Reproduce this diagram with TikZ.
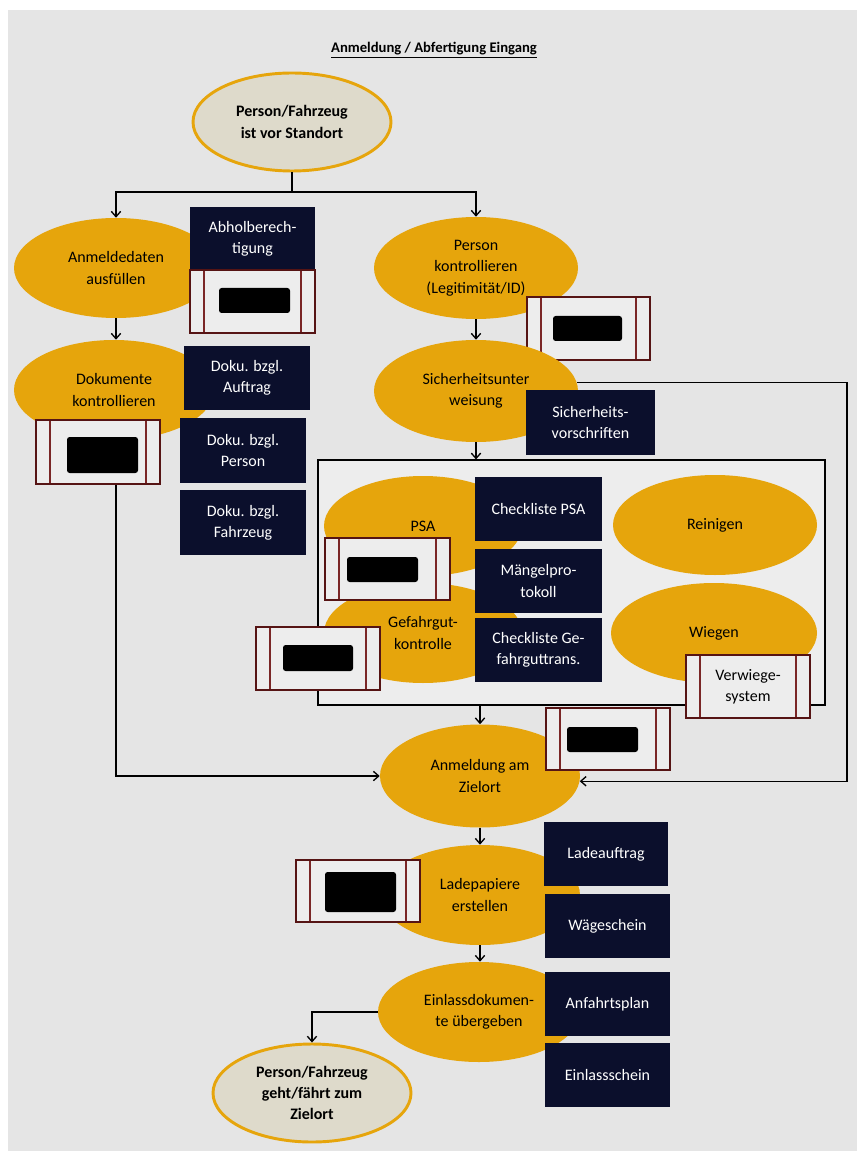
\documentclass[tikz,border=0pt]{standalone}
\usepackage{fontspec}
\setmainfont{Carlito}
\usetikzlibrary{shapes.geometric,arrows.meta,calc}

\definecolor{pagebg}{HTML}{E5E5E5}
\definecolor{framebg}{HTML}{EDEDED}
\definecolor{gold}{HTML}{E6A50C}
\definecolor{navy}{HTML}{0B0F2C}
\definecolor{maroonC}{HTML}{561414}
\definecolor{maroonL}{HTML}{7A2626}
\definecolor{beige}{HTML}{DEDACB}

\tikzset{
  txt/.style={font=\fontsize{12}{16}\selectfont, align=center, inner sep=0pt},
  ell/.style={txt, ellipse, fill=gold, text=black},
  terminal/.style={txt, ellipse, fill=beige, draw=gold, line width=2.2pt, font=\fontsize{12}{16}\selectfont\bfseries},
  docbox/.style={txt, rectangle, fill=navy, text=white},
  sysbox/.style={txt, rectangle, fill=framebg, draw=maroonC, line width=1.6pt, text=black,
    path picture={
      \draw[maroonL, line width=1.3pt]
        ([xshift=10.5pt]path picture bounding box.south west) --
        ([xshift=10.5pt]path picture bounding box.north west);
      \draw[maroonL, line width=1.3pt]
        ([xshift=-10.5pt]path picture bounding box.south east) --
        ([xshift=-10.5pt]path picture bounding box.north east);
    }},
  hidden/.style={rectangle, fill=black, rounded corners=2pt, inner sep=0pt},
  flow/.style={line width=1pt, draw=black},
  arr/.style={flow, -{Straight Barb[length=4pt,width=7pt,line width=1pt]}},
}

% sizes are given in pixels of a 857 x 1151 sheet: 1px = 0.75pt
\newcommand{\px}[1]{\fpeval{#1*0.75}pt}

\begin{document}
\begin{tikzpicture}[x=0.75pt,y=-0.75pt]
\useasboundingbox (0,0) rectangle (857,1151);
\fill[white] (0,0) rectangle (857,1151);
\fill[pagebg] (8,10) rectangle (857,1151);

% title
\node[txt, font=\fontsize{11}{14}\selectfont\bfseries] (title) at (434,50)
  {\underline{Anmeldung / Abfertigung Eingang}};

% start
\node[terminal, minimum width=\px{198}, minimum height=\px{98}] (start) at (292,122)
  {Person/Fahrzeug\\ist vor Standort};

% left column
\node[ell, minimum width=\px{204}, minimum height=\px{100}] (anm) at (116,268) {Anmeldedaten\\ausfüllen};
\node[ell, minimum width=\px{200}, minimum height=\px{100}] (dok) at (114,390) {Dokumente\\kontrollieren};
\node[docbox, minimum width=\px{125}, minimum height=\px{63}] (abh) at (252.5,238.5) {Abholberech-\\tigung};
\node[sysbox, minimum width=\px{125}, minimum height=\px{63}] (abhR) at (252.5,301.5) {};
\node[hidden, minimum width=\px{71}, minimum height=\px{25}] (abhB) at (254.5,300.5) {};
\node[sysbox, minimum width=\px{124}, minimum height=\px{64}] (dokR) at (98,452) {};
\node[hidden, minimum width=\px{71}, minimum height=\px{36}] (dokB) at (102.5,455) {};
\node[docbox, minimum width=\px{126}, minimum height=\px{64}] (d1) at (247,378) {Doku. bzgl.\\Auftrag};
\node[docbox, minimum width=\px{126}, minimum height=\px{65}] (d2) at (243,450.5) {Doku. bzgl.\\Person};
\node[docbox, minimum width=\px{126}, minimum height=\px{65}] (d3) at (243,522.5) {Doku. bzgl.\\Fahrzeug};

% right column
\node[ell, minimum width=\px{204}, minimum height=\px{102}] (per) at (476,268) {Person\\kontrollieren\\(Legitimität/ID)};
\node[sysbox, minimum width=\px{123}, minimum height=\px{63}] (perR) at (588.5,328.5) {};
\node[hidden, minimum width=\px{69}, minimum height=\px{25}] (perB) at (587.5,328.5) {};
\node[ell, minimum width=\px{204}, minimum height=\px{102}] (sic) at (476,391) {Sicherheitsunter\\weisung};
\node[docbox, minimum width=\px{129}, minimum height=\px{65}] (sicN) at (590.5,422.5) {Sicherheits-\\vorschriften};

% checks frame
\node[rectangle, fill=framebg, draw=black, line width=0.8pt, minimum width=\px{507}, minimum height=\px{245}, inner sep=0pt] (frame) at (571.5,582.5) {};
\node[ell, minimum width=\px{198}, minimum height=\px{100}] (psa) at (423,526) {PSA};
\node[ell, minimum width=\px{198}, minimum height=\px{100}] (gef) at (423,633) {Gefahrgut-\\kontrolle};
\node[docbox, minimum width=\px{127}, minimum height=\px{64}] (cpsa) at (538.5,509) {Checkliste PSA};
\node[docbox, minimum width=\px{127}, minimum height=\px{64}] (mang) at (538.5,581) {Mängelpro-\\tokoll};
\node[docbox, minimum width=\px{127}, minimum height=\px{64}] (cgef) at (538.5,650) {Checkliste Ge-\\fahrguttrans.};
\node[sysbox, minimum width=\px{125}, minimum height=\px{62}] (psaR) at (387.5,569) {};
\node[hidden, minimum width=\px{71}, minimum height=\px{25}] (psaB) at (382.5,569.5) {};
\node[sysbox, minimum width=\px{124}, minimum height=\px{63}] (gefR) at (318,658.5) {};
\node[hidden, minimum width=\px{70}, minimum height=\px{26}] (gefB) at (318,658) {};
\node[ell, minimum width=\px{204}, minimum height=\px{100}] (rein) at (715,525) {Reinigen};
\node[ell, minimum width=\px{206}, minimum height=\px{100}] (wieg) at (714,633) {Wiegen};
\node[sysbox, minimum width=\px{124}, minimum height=\px{63}] (verw) at (748,686.5) {Verwiege-\\system};

% destination
\node[ell, minimum width=\px{200}, minimum height=\px{103}] (ziel) at (480,776) {Anmeldung am\\Zielort};
\node[sysbox, minimum width=\px{124}, minimum height=\px{62}] (zielR) at (608,739) {};
\node[hidden, minimum width=\px{71}, minimum height=\px{25}] (zielB) at (602.5,739.5) {};
\node[ell, minimum width=\px{200}, minimum height=\px{100}] (lade) at (480,895) {Ladepapiere\\erstellen};
\node[sysbox, minimum width=\px{124}, minimum height=\px{62}] (ladeR) at (358,891) {};
\node[hidden, minimum width=\px{71}, minimum height=\px{40}] (ladeB) at (360.5,892) {};
\node[docbox, minimum width=\px{124}, minimum height=\px{64}] (la1) at (606,854) {Ladeauftrag};
\node[docbox, minimum width=\px{125}, minimum height=\px{64}] (la2) at (607.5,926) {Wägeschein};
\node[ell, minimum width=\px{202}, minimum height=\px{100}] (einl) at (479,1012) {Einlassdokumen-\\te übergeben};
\node[docbox, minimum width=\px{125}, minimum height=\px{64}] (e1) at (607.5,1004) {Anfahrtsplan};
\node[docbox, minimum width=\px{125}, minimum height=\px{64}] (e2) at (607.5,1075) {Einlassschein};
\node[terminal, minimum width=\px{198}, minimum height=\px{98}] (end) at (312,1093)
  {Person/Fahrzeug\\geht/fährt zum\\Zielort};

% connectors
\coordinate (split) at (292,192);
\coordinate (loopX) at (847,0);
\draw[flow] (start.south) -- (split);
\draw[arr] (split) -| (anm.north);
\draw[arr] (split) -| (per.north);
\draw[arr] (anm.south) -- (anm.south |- dok.north);
\draw[arr] (dokR.south -| anm.south) |- (ziel.west);
\draw[arr] (per.south) -- (per.south |- sic.north);
\draw[arr] (sic.5) -- (sic.5 -| loopX) |- (ziel.-3);
\draw[arr] (sic.south) -- (sic.south |- frame.north);
\draw[arr] (frame.south -| ziel.north) -- (ziel.north);
\draw[arr] (ziel.south) -- (lade.north);
\draw[arr] (lade.south) -- (lade.south |- einl.north);
\draw[arr] (einl.west) -| (end.north);
\end{tikzpicture}
\end{document}
